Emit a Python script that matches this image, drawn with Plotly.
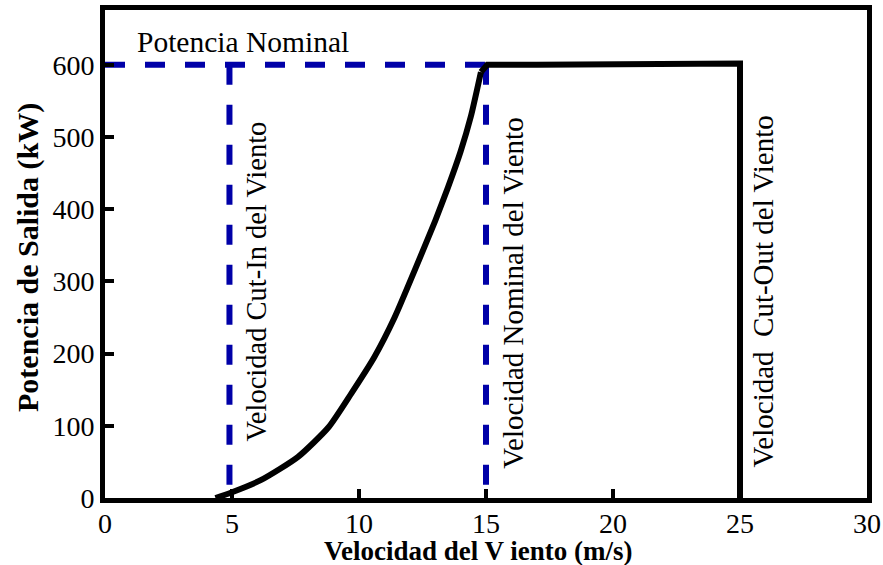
import plotly.graph_objects as go

# Power curve of the turbine: rising section (cut-in to rated speed)
curve_speed = [4.35, 5.0, 6.15, 7.6, 8.8, 9.7, 10.6, 11.4, 12.2, 13.0, 13.5, 14.0, 14.4, 14.8]
curve_power = [0, 8, 25, 57, 98, 145, 195, 250, 316, 384, 430, 480, 528, 590]

# Knee into the rated plateau, plateau and cut-out drop
plateau_speed = [14.8, 15.05, 17.0, 20.0, 22.0, 25.0, 25.0]
plateau_power = [590, 600, 600, 601, 602, 602, 0]

# Reference speeds / power
cut_in_speed = 4.9
rated_speed = 15.0
cut_out_speed = 25.0
rated_power = 600

x_ticks = [0, 5, 10, 15, 20, 25, 30]
y_ticks = [0, 100, 200, 300, 400, 500, 600]

FONT = "Times New Roman, Liberation Serif, serif"
BLUE = "#0000a8"
DASH = "20px,20px"

fig = go.Figure()

# Dashed guide lines
fig.add_trace(go.Scatter(x=[0, rated_speed], y=[rated_power, rated_power], mode="lines",
                         line=dict(color=BLUE, width=6, dash=DASH), hoverinfo="skip"))
fig.add_trace(go.Scatter(x=[cut_in_speed, cut_in_speed], y=[rated_power, 0], mode="lines",
                         line=dict(color=BLUE, width=6, dash=DASH), hoverinfo="skip"))
fig.add_trace(go.Scatter(x=[rated_speed, rated_speed], y=[rated_power, 0], mode="lines",
                         line=dict(color=BLUE, width=6, dash=DASH), hoverinfo="skip"))

# Power curve
fig.add_trace(go.Scatter(x=curve_speed, y=curve_power, mode="lines",
                         line=dict(color="black", width=6, shape="spline", smoothing=0.6)))
fig.add_trace(go.Scatter(x=plateau_speed, y=plateau_power, mode="lines",
                         line=dict(color="black", width=6)))

annotations = [
    dict(x=1.2, y=632, text="Potencia Nominal", size=29.5, showarrow=False,
         xanchor="left", yanchor="middle"),
    dict(x=5.95, y=300, text="Velocidad Cut-In del Viento", size=28.5,
         showarrow=False, textangle=-90),
    dict(x=16.05, y=284, text="Velocidad Nominal del Viento", size=29,
         showarrow=False, textangle=-90),
    dict(x=25.9, y=286, text="Velocidad  Cut-Out del Viento", size=29,
         showarrow=False, textangle=-90),
    dict(x=0.5, y=0, xref="paper", yref="paper", yshift=-53, xshift=-8, size=27,
         text="<b>Velocidad del V iento (m/s)</b>", showarrow=False, yanchor="middle"),
    dict(x=0, y=0.5, xref="paper", yref="paper", xshift=-77, yshift=-4, size=30,
         text="<b>Potencia de Salida (kW)</b>", showarrow=False, textangle=-90, xanchor="center"),
]
for a in annotations:
    a.setdefault("xref", "x")
    a.setdefault("yref", "y")
    a["font"] = dict(family=FONT, size=a.pop("size"), color="black")

axis_common = dict(showline=True, linewidth=5, linecolor="black", mirror=True,
                   ticks="inside", ticklen=9, tickwidth=4, tickcolor="black",
                   showgrid=False, zeroline=False, automargin=False,
                   tickfont=dict(family=FONT, size=28, color="black"))

fig.update_layout(
    width=883, height=565,
    margin=dict(l=105, r=16, t=10, b=67),
    paper_bgcolor="white", plot_bgcolor="white",
    showlegend=False,
    font=dict(family=FONT),
    annotations=annotations,
    xaxis=dict(range=[0, 30], tickvals=x_ticks, ticktext=[str(v) for v in x_ticks],
               ticklabelstandoff=-4, **axis_common),
    yaxis=dict(range=[0, 676], tickvals=y_ticks, ticktext=[str(v) for v in y_ticks], **axis_common),
)

fig.write_html("out.html")
